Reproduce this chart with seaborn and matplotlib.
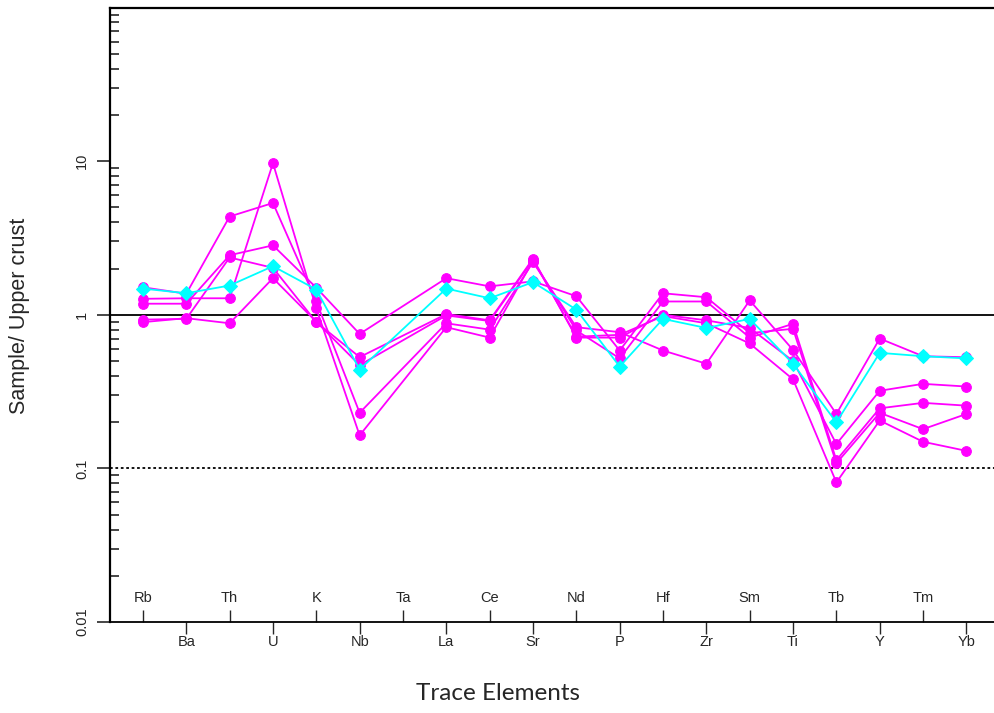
import numpy as np
import pandas as pd
import matplotlib
matplotlib.use("Agg")
import matplotlib.pyplot as plt
from matplotlib.ticker import LogLocator, NullFormatter, FixedLocator
import seaborn as sns

elements = ["Rb", "Ba", "Th", "U", "K", "Nb", "Ta", "La", "Ce", "Sr",
            "Nd", "P", "Hf", "Zr", "Sm", "Ti", "Tb", "Y", "Tm", "Yb"]
nan = np.nan
sample_a = [1.51, 1.37, 4.36, 5.34, 1.22, 0.23, nan, 0.88, 0.80, 2.20,
            0.83, 0.77, 0.585, 0.48, 1.24, 0.59, 0.226, 0.70, 0.537, 0.529]
sample_b = [1.27, 1.28, 1.28, 9.7, 1.10, 0.164, nan, 0.83, 0.71, 2.25,
            0.79, 0.52, 1.22, 1.22, 0.71, 0.873, 0.113, 0.246, 0.267, 0.256]
sample_c = [1.18, 1.18, 2.44, 2.83, 1.50, 0.75, nan, 1.73, 1.53, 1.65,
            1.32, 0.585, 1.38, 1.30, 0.76, 0.81, 0.108, 0.23, 0.18, 0.226]
sample_d = [0.93, 0.94, 2.36, 2.02, 0.895, 0.53, nan, 1.01, 0.92, 2.32,
            0.71, 0.71, 1.0, 0.92, 0.82, 0.50, 0.144, 0.32, 0.355, 0.341]
sample_e = [0.895, 0.95, 0.88, 1.73, 0.90, 0.47, nan, 0.99, 0.91, 2.28,
            0.72, 0.74, 0.98, 0.88, 0.65, 0.38, 0.081, 0.205, 0.149, 0.13]
sample_cyan = [1.48, 1.38, 1.55, 2.07, 1.46, 0.44, nan, 1.48, 1.28, 1.63,
               1.08, 0.46, 0.94, 0.82, 0.94, 0.48, 0.199, 0.565, 0.537, 0.52]

magenta_series = [sample_a, sample_b, sample_c, sample_d, sample_e]

sns.set_style("white")
plt.rcParams["font.family"] = ["Liberation Sans", "DejaVu Sans"]

fig = plt.figure(figsize=(9.95, 7.13), dpi=100)
ax = fig.add_axes([110 / 995, (713 - 622) / 713, (995 - 110) / 995, (622 - 7.5) / 713])

xpos = np.arange(len(elements))

def draw(vals, color, marker, ms):
    df = pd.DataFrame({"x": xpos, "y": vals}).dropna()
    sns.lineplot(data=df, x="x", y="y", ax=ax, color=color, marker=marker,
                 markersize=ms, markeredgecolor=color, linewidth=1.3,
                 estimator=None, sort=False)

for s in magenta_series:
    draw(s, "#FF00FF", "o", 7)
draw(sample_cyan, "#00FFFF", "D", 6.8)

ax.set_yscale("log")
ax.set_ylim(0.01, 100)
ax.set_xlim(-0.76, 19.66)

ax.axhline(1, color="black", linewidth=1.3, zorder=1)
ax.axhline(0.1, color="black", linewidth=1.3, linestyle=(0, (1.5, 1.5)), zorder=1)

# y ticks
ax.yaxis.set_major_locator(FixedLocator([0.01, 0.1, 1, 10]))
ax.set_yticklabels(["0.01", "0.1", "1", "10"])
ax.yaxis.set_minor_locator(LogLocator(base=10, subs=np.arange(2, 10), numticks=20))
ax.yaxis.set_minor_formatter(NullFormatter())
ax.tick_params(axis="y", which="major", direction="out", length=9.4, width=1.2,
               labelsize=10.5, pad=5.5, left=True)
ax.tick_params(axis="y", which="minor", direction="in", length=6.5, width=1.2, left=True)
for lab in ax.get_yticklabels():
    lab.set_rotation(90)
    lab.set_va("center")

# x ticks: odd-index below, even-index above (inside)
ax.set_xticks(xpos[1::2])
ax.set_xticklabels(elements[1::2])
ax.set_xticks(xpos[0::2], minor=True)
ax.set_xticklabels(elements[0::2], minor=True)
ax.tick_params(axis="x", which="major", direction="out", length=8.6, width=1,
               labelsize=10.5, pad=0.5, bottom=True)
ax.tick_params(axis="x", which="minor", direction="in", length=8.6, width=1,
               labelsize=10.5, pad=-22.5, bottom=True)

ax.spines["right"].set_visible(False)
for side in ["left", "top", "bottom"]:
    ax.spines[side].set_visible(True)
    ax.spines[side].set_color("black")
ax.spines["left"].set_linewidth(1.6)
ax.spines["top"].set_linewidth(1.6)
ax.spines["bottom"].set_linewidth(1.3)

ax.set_ylabel("Sample/ Upper crust", fontsize=15.5)
ax.yaxis.label.set_va("center")
ax.yaxis.set_label_coords((20 - 110) / 885, (622 - 316) / 614.5)

ax.set_xlabel("Trace Elements", fontsize=17.5, family=["Lato", "DejaVu Sans"])
ax.xaxis.label.set_va("center")
ax.xaxis.set_label_coords((498 - 110) / 885, (622 - 693) / 614.5)

ax.grid(False)
fig.savefig("out.png", dpi=100)
